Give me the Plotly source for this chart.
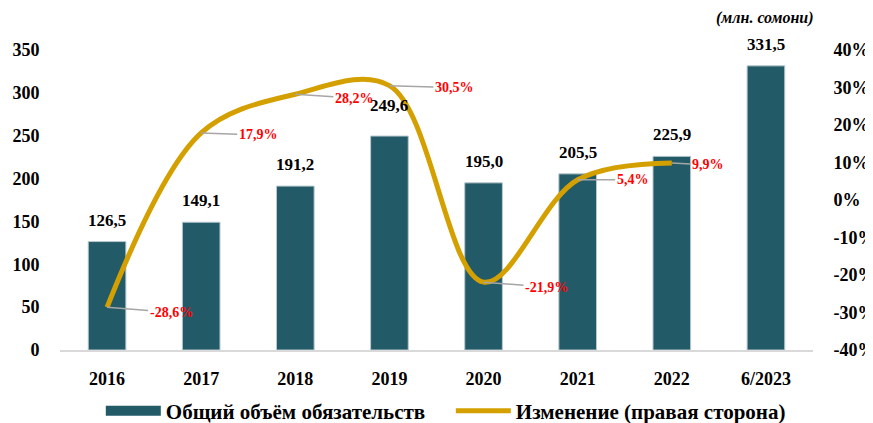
import plotly.graph_objects as go

categories = ["2016", "2017", "2018", "2019", "2020", "2021", "2022", "6/2023"]
liabilities = [126.5, 149.1, 191.2, 249.6, 195.0, 205.5, 225.9, 331.5]
change_pct = [-28.6, 17.9, 28.2, 30.5, -21.9, 5.4, 9.9]
left_ticks = [0, 50, 100, 150, 200, 250, 300, 350]
right_ticks = [-40, -30, -20, -10, 0, 10, 20, 30, 40]
right_tick_labels = ["-40%", "-30%", "-20%", "-10%", "0%", "10%", "20%", "30%", "40%"]
bar_name = "Общий объём обязательств"
line_name = "Изменение (правая сторона)"

FONT = "Liberation Serif"
BAR = "#235A67"
GOLD = "#D4A000"

def fmt(v):
    return f"{v:.1f}".replace(".", ",")

fig = go.Figure()
fig.add_trace(go.Bar(
    x=categories, y=liabilities, name=bar_name, showlegend=False,
    marker=dict(color=BAR, line=dict(color="#B8C8CE", width=1)),
    width=0.4, yaxis="y",
))
fig.add_trace(go.Scatter(
    x=categories[:len(change_pct)], y=change_pct, name=line_name, showlegend=False,
    mode="lines", line=dict(color=GOLD, width=5, shape="spline", smoothing=1.0),
    yaxis="y2",
))
# legend entries (wide swatches like the original)
fig.add_trace(go.Scatter(x=[None], y=[None], name=bar_name, mode="lines",
                         line=dict(color=BAR, width=12), yaxis="y"))
fig.add_trace(go.Scatter(x=[None], y=[None], name=line_name, mode="lines",
                         line=dict(color=GOLD, width=5), yaxis="y2"))

annotations = []
for i, v in enumerate(liabilities):
    annotations.append(dict(
        x=i, y=v, xref="x", yref="y", text=fmt(v), showarrow=False,
        yanchor="bottom", yshift=19 if categories[i] == "2019" else 10,
        font=dict(family=FONT, size=17, color="black", weight="bold"),
    ))
offsets = [(64, 5), (57, 2), (59, 4), (65, 2), (63, 5), (55, 0), (36, 2)]
for i, (v, (ax, ay)) in enumerate(zip(change_pct, offsets)):
    annotations.append(dict(
        x=i, y=v, xref="x", yref="y2", text=fmt(v) + "%",
        showarrow=True, arrowhead=0, arrowwidth=1.5, arrowcolor="#A6A6A6",
        ax=ax, ay=ay, standoff=0,
        font=dict(family=FONT, size=14, color="#FF0000", weight="bold"),
    ))
annotations.append(dict(
    x=(765 - 60) / (813 - 60), y=(350 - 18) / 300, xref="paper", yref="paper",
    xanchor="center", yanchor="middle",
    text="<i>(млн. сомони)</i>", showarrow=False,
    font=dict(family=FONT, size=16, color="black", weight="bold"),
))

fig.update_layout(
    width=873, height=423,
    margin=dict(l=52, r=68, t=42, b=81, autoexpand=False),
    plot_bgcolor="white", paper_bgcolor="white",
    font=dict(family=FONT, size=16, color="black", weight="bold"),
    showlegend=True,
    legend=dict(orientation="h", x=0.519, xanchor="center", y=-0.135, yanchor="top",
                bgcolor="rgba(0,0,0,0)",
                font=dict(family=FONT, size=21, color="black", weight="bold"),
                itemwidth=55, entrywidth=280, traceorder="normal"),
    xaxis=dict(type="category", range=[-0.5, 7.5], showline=True, linecolor="#D9D9D9",
               linewidth=2, showgrid=False,
               ticks="outside", ticklen=11, tickcolor="rgba(0,0,0,0)",
               tickfont=dict(family=FONT, size=18, weight="bold")),
    yaxis=dict(range=[0, 350], tickvals=left_ticks, showgrid=False, zeroline=False,
               ticks="outside", ticklen=16, tickcolor="rgba(0,0,0,0)",
               tickfont=dict(family=FONT, size=18, weight="bold")),
    yaxis2=dict(range=[-40, 40], tickvals=right_ticks, ticktext=right_tick_labels,
                overlaying="y", side="right", showgrid=False, zeroline=False,
                ticks="outside", ticklen=16, tickcolor="rgba(0,0,0,0)",
                tickfont=dict(family=FONT, size=18, weight="bold")),
    annotations=annotations,
)

fig.write_html("out.html")
